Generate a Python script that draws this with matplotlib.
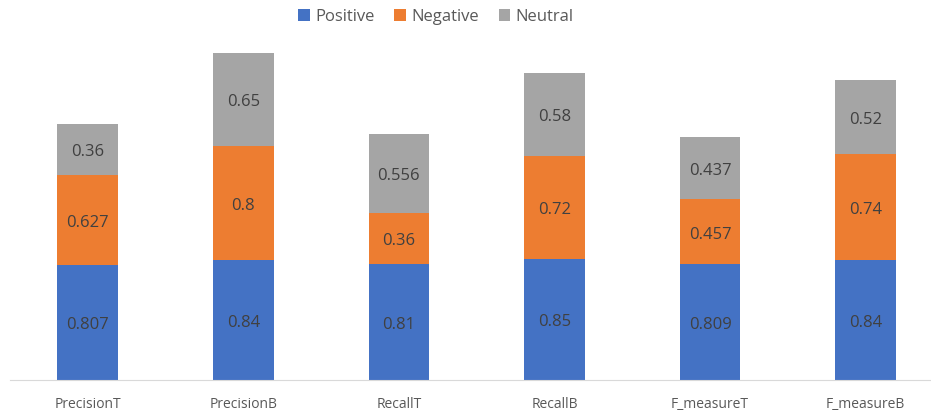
import numpy as np
import matplotlib.pyplot as plt

categories = ['PrecisionT', 'PrecisionB', 'RecallT', 'RecallB', 'F_measureT', 'F_measureB']
positive = [0.807, 0.84, 0.81, 0.85, 0.809, 0.84]
negative = [0.627, 0.8, 0.36, 0.72, 0.457, 0.74]
neutral = [0.36, 0.65, 0.556, 0.58, 0.437, 0.52]

series = [('Positive', positive, '#4472C4'),
          ('Negative', negative, '#ED7D31'),
          ('Neutral', neutral, '#A5A5A5')]

plt.rcParams['font.family'] = ['Open Sans', 'DejaVu Sans']

fig = plt.figure(figsize=(9.31, 4.18), dpi=100)
ax = fig.add_axes([10 / 931, 38 / 418, 921 / 931, 357 / 418])

x = np.arange(len(categories))
bottom = np.zeros(len(categories))
for name, vals, color in series:
    vals = np.array(vals)
    ax.bar(x, vals, width=0.39, bottom=bottom, color=color, label=name)
    for xi, b, v in zip(x, bottom, vals):
        ax.text(xi, b + v / 2 - 0.02, f'{v:g}', ha='center', va='center',
                fontsize=12, color='#404040')
    bottom += vals

ax.set_xlim(-0.5, 5.42)
ax.set_ylim(0, 2.5)
ax.set_yticks([])
ax.set_xticks(x)
ax.set_xticklabels(categories, fontsize=10, color='#595959')
ax.tick_params(axis='x', length=0, pad=12)
for s in ['top', 'right', 'left']:
    ax.spines[s].set_visible(False)
ax.spines['bottom'].set_color('#D9D9D9')

fig.legend(loc='center', bbox_to_anchor=(436 / 931, 1 - 17 / 418), ncol=3,
           frameon=False, fontsize=12, handlelength=0.7, handleheight=0.7,
           columnspacing=1.2, handletextpad=0.3, labelcolor='#595959')

fig.savefig('out.png', dpi=100)
